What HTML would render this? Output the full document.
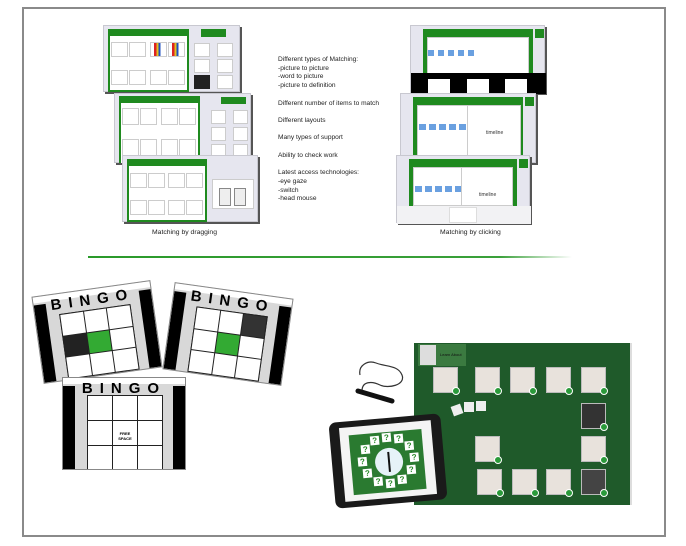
<!DOCTYPE html>
<html><head><meta charset="utf-8">
<style>
*{margin:0;padding:0;box-sizing:border-box}
body{width:686px;height:546px;background:#fff;position:relative;overflow:hidden;font-family:"Liberation Sans",sans-serif}
.a{position:absolute}
.frame{left:22px;top:7px;width:644px;height:530px;border:2px solid #8a8a8a;border-bottom-width:2px}
.ss{background:#e6e6ef;box-shadow:2px 2px 0 #555;border:1px solid #c8c8d0}
.gp{background:#1f8a1f;}
.cell{background:#fff;border:1px solid #ccc}
.txt{font-size:6.6px;color:#222;line-height:8.7px;white-space:pre}
.cap{font-size:6.8px;color:#222}
.bingo{background:#d8d8d8;border:1px solid #888;overflow:hidden}
.bingo .bl{position:absolute;top:8px;bottom:0;width:12px;background:#000}
.bt{position:absolute;left:0;right:0;top:2px;text-align:center;font-weight:bold;font-size:15px;letter-spacing:7px;color:#000}
.grid{position:absolute;display:grid;grid-template-columns:repeat(3,1fr);grid-template-rows:repeat(3,1fr);border:1px solid #222;background:#222;gap:1px}
.grid div{background:#fff}
.card{position:absolute;width:25px;height:26px;background:#e8e2dc;border:1px solid #bbb}
.card:after{content:"";position:absolute;right:-3px;bottom:-3px;width:6px;height:6px;border-radius:50%;background:#2a9a3a;border:1px solid #fff}
.q{position:absolute;width:9px;height:9px;background:#fff;color:#2a8a2a;font-size:8px;font-weight:bold;text-align:center;line-height:9px}
</style></head><body>
<div class="a frame"></div>

<!-- left stack -->
<div class="a ss" style="left:103px;top:25px;width:137px;height:67px">
 <div class="a gp" style="left:4px;top:3px;width:81px;height:63px"></div>
 <div class="a" style="left:6px;top:10px;width:77px;height:54px;background:#fff"></div>
 <div class="a cell" style="left:7px;top:16px;width:17px;height:15px"></div>
 <div class="a cell" style="left:25px;top:16px;width:17px;height:15px"></div>
 <div class="a cell" style="left:46px;top:16px;width:17px;height:15px;background:linear-gradient(90deg,#fff 20%,#d22 20%,#d22 35%,#e0c020 35%,#e0c020 50%,#2050c0 50%,#2050c0 65%,#fff 65%)"></div>
 <div class="a cell" style="left:64px;top:16px;width:17px;height:15px;background:linear-gradient(90deg,#fff 20%,#d22 20%,#d22 35%,#e0c020 35%,#e0c020 50%,#2050c0 50%,#2050c0 65%,#fff 65%)"></div>
 <div class="a cell" style="left:7px;top:44px;width:17px;height:15px"></div>
 <div class="a cell" style="left:25px;top:44px;width:17px;height:15px"></div>
 <div class="a cell" style="left:46px;top:44px;width:17px;height:15px"></div>
 <div class="a cell" style="left:64px;top:44px;width:17px;height:15px"></div>
 <div class="a gp" style="left:97px;top:3px;width:25px;height:8px"></div>
 <div class="a cell" style="left:90px;top:17px;width:16px;height:14px"></div>
 <div class="a cell" style="left:113px;top:17px;width:16px;height:14px"></div>
 <div class="a cell" style="left:90px;top:33px;width:16px;height:14px"></div>
 <div class="a cell" style="left:113px;top:33px;width:16px;height:14px"></div>
 <div class="a" style="left:90px;top:49px;width:16px;height:14px;background:#222"></div>
 <div class="a cell" style="left:113px;top:49px;width:16px;height:14px"></div>
</div>
<div class="a ss" style="left:114px;top:93px;width:137px;height:70px">
 <div class="a gp" style="left:4px;top:2px;width:81px;height:67px"></div>
 <div class="a" style="left:6px;top:9px;width:77px;height:60px;background:#fff"></div>
 <div class="a cell" style="left:7px;top:14px;width:17px;height:17px"></div>
 <div class="a cell" style="left:25px;top:14px;width:17px;height:17px"></div>
 <div class="a cell" style="left:46px;top:14px;width:17px;height:17px"></div>
 <div class="a cell" style="left:64px;top:14px;width:17px;height:17px"></div>
 <div class="a cell" style="left:7px;top:45px;width:17px;height:17px"></div>
 <div class="a cell" style="left:25px;top:45px;width:17px;height:17px"></div>
 <div class="a cell" style="left:46px;top:45px;width:17px;height:17px"></div>
 <div class="a cell" style="left:64px;top:45px;width:17px;height:17px"></div>
 <div class="a gp" style="left:106px;top:3px;width:25px;height:7px"></div>
 <div class="a cell" style="left:96px;top:16px;width:15px;height:14px"></div>
 <div class="a cell" style="left:118px;top:16px;width:15px;height:14px"></div>
 <div class="a cell" style="left:96px;top:33px;width:15px;height:14px"></div>
 <div class="a cell" style="left:118px;top:33px;width:15px;height:14px"></div>
 <div class="a cell" style="left:96px;top:50px;width:15px;height:14px"></div>
 <div class="a cell" style="left:118px;top:50px;width:15px;height:14px"></div>
</div>
<div class="a ss" style="left:122px;top:155px;width:136px;height:67px">
 <div class="a gp" style="left:4px;top:3px;width:80px;height:63px"></div>
 <div class="a" style="left:6px;top:10px;width:76px;height:54px;background:#fff"></div>
 <div class="a cell" style="left:7px;top:17px;width:17px;height:15px"></div>
 <div class="a cell" style="left:25px;top:17px;width:17px;height:15px"></div>
 <div class="a cell" style="left:45px;top:17px;width:17px;height:15px"></div>
 <div class="a cell" style="left:63px;top:17px;width:17px;height:15px"></div>
 <div class="a cell" style="left:7px;top:44px;width:17px;height:15px"></div>
 <div class="a cell" style="left:25px;top:44px;width:17px;height:15px"></div>
 <div class="a cell" style="left:45px;top:44px;width:17px;height:15px"></div>
 <div class="a cell" style="left:63px;top:44px;width:17px;height:15px"></div>
 <div class="a" style="left:89px;top:23px;width:42px;height:30px;background:#fff;border:1px solid #ccc"></div>
 <div class="a" style="left:96px;top:32px;width:12px;height:18px;background:#eee;border:1px solid #888"></div>
 <div class="a" style="left:111px;top:32px;width:12px;height:18px;background:#eee;border:1px solid #888"></div>
</div>
<div class="a cap" style="left:152px;top:229px">Matching by dragging</div>

<!-- text -->
<div class="a txt" style="left:278px;top:56px">Different types of Matching:
-picture to picture
-word to picture
-picture to definition

Different number of items to match

Different layouts

Many types of support

Ability to check work

Latest access technologies:
-eye gaze
-switch
-head mouse</div>

<!-- right stack -->
<div class="a ss" style="left:410px;top:25px;width:135px;height:68px">
 <div class="a gp" style="left:12px;top:3px;width:110px;height:50px"></div>
 <div class="a" style="left:16px;top:11px;width:102px;height:42px;background:#fff;border:1px solid #ccc"></div>
 <div class="a" style="left:17px;top:24px;width:50px;height:6px;background:linear-gradient(90deg,#6aa0e0 60%,#fff 60%);background-size:10px 6px"></div>
 <div class="a gp" style="left:124px;top:3px;width:9px;height:9px"></div>
 <div class="a" style="left:0;top:47px;width:135px;height:21px;background:#000"></div>
 <div class="a" style="left:17px;top:53px;width:22px;height:15px;background:#fff"></div>
 <div class="a" style="left:56px;top:53px;width:22px;height:15px;background:#fff"></div>
 <div class="a" style="left:94px;top:53px;width:22px;height:15px;background:#fff"></div>
</div>
<div class="a ss" style="left:400px;top:93px;width:136px;height:70px">
 <div class="a gp" style="left:12px;top:3px;width:110px;height:66px"></div>
 <div class="a" style="left:16px;top:11px;width:104px;height:58px;background:#fff;border:1px solid #ccc"></div>
 <div class="a" style="left:18px;top:30px;width:48px;height:6px;background:linear-gradient(90deg,#6aa0e0 70%,#fff 70%);background-size:10px 6px"></div>
 <div class="a" style="left:66px;top:11px;width:1px;height:58px;background:#ccc"></div>
 <div class="a" style="left:85px;top:36px;font-size:5px;color:#333">timeline</div>
 <div class="a gp" style="left:124px;top:3px;width:9px;height:9px"></div>
</div>
<div class="a ss" style="left:396px;top:155px;width:134px;height:68px">
 <div class="a gp" style="left:12px;top:3px;width:108px;height:47px"></div>
 <div class="a" style="left:16px;top:11px;width:100px;height:39px;background:#fff;border:1px solid #ccc"></div>
 <div class="a" style="left:18px;top:30px;width:46px;height:6px;background:linear-gradient(90deg,#6aa0e0 70%,#fff 70%);background-size:10px 6px"></div>
 <div class="a" style="left:64px;top:11px;width:1px;height:39px;background:#ccc"></div>
 <div class="a" style="left:82px;top:36px;font-size:5px;color:#333">timeline</div>
 <div class="a gp" style="left:122px;top:3px;width:9px;height:9px"></div>
 <div class="a" style="left:0;top:50px;width:134px;height:18px;background:#f2f2f4"></div>
 <div class="a" style="left:52px;top:51px;width:28px;height:16px;background:#fff;border:1px solid #ddd"></div>
</div>
<div class="a cap" style="left:440px;top:229px">Matching by clicking</div>

<div class="a" style="left:88px;top:256px;width:484px;height:2px;background:linear-gradient(90deg,#2a9a2a,#3aa03a 85%,rgba(60,160,60,0))"></div>

<!-- bingo boards -->
<div class="a bingo" style="left:37px;top:288px;width:120px;height:88px;transform:rotate(-8deg)">
 <div class="a" style="left:0;top:0;right:0;height:6px;background:#fff"></div>
 <div class="bl" style="left:0"></div><div class="bl" style="right:0"></div>
 <div class="bt">BINGO</div>
 <div class="grid" style="left:24px;top:20px;width:72px;height:66px"><div></div><div></div><div></div><div style="background:#222"></div><div style="background:#3a3"></div><div></div><div></div><div></div><div></div></div>
</div>
<div class="a bingo" style="left:168px;top:290px;width:120px;height:88px;transform:rotate(8deg)">
 <div class="a" style="left:0;top:0;right:0;height:6px;background:#fff"></div>
 <div class="bl" style="left:0"></div><div class="bl" style="right:0"></div>
 <div class="bt">BINGO</div>
 <div class="grid" style="left:24px;top:20px;width:72px;height:66px"><div></div><div></div><div style="background:#333"></div><div></div><div style="background:#3a3"></div><div></div><div></div><div></div><div></div></div>
</div>
<div class="a bingo" style="left:62px;top:377px;width:124px;height:93px">
 <div class="a" style="left:0;top:0;right:0;height:6px;background:#fff"></div>
 <div class="bl" style="left:0"></div><div class="bl" style="right:0"></div>
 <div class="bt">BINGO</div>
 <div class="grid" style="left:24px;top:17px;width:76px;height:76px"><div></div><div></div><div></div><div></div><div style="font-size:4px;font-weight:bold;text-align:center;padding-top:10px">FREE SPACE</div><div></div><div></div><div></div><div></div></div>
</div>

<!-- green board -->
<div class="a" style="left:414px;top:343px;width:218px;height:162px;background:#1f5a2a;border-right:2px solid #ddd"></div>
<div class="a" style="left:418px;top:344px;width:48px;height:22px;background:#3b7a40"></div>
<div class="a" style="left:420px;top:345px;width:16px;height:20px;background:#ddd"></div>
<div class="a" style="left:440px;top:352px;font-size:4px;color:#111">Learn About</div>
<div class="card" style="left:433px;top:367px"></div>
<div class="card" style="left:475px;top:367px"></div>
<div class="card" style="left:510px;top:367px"></div>
<div class="card" style="left:546px;top:367px"></div>
<div class="card" style="left:581px;top:367px"></div>
<div class="card" style="left:581px;top:403px;background:#333"></div>
<div class="card" style="left:581px;top:436px"></div>
<div class="card" style="left:475px;top:436px"></div>
<div class="card" style="left:477px;top:469px"></div>
<div class="card" style="left:512px;top:469px"></div>
<div class="card" style="left:546px;top:469px"></div>
<div class="card" style="left:581px;top:469px;background:#444"></div>
<div class="a" style="left:452px;top:405px;width:10px;height:10px;background:#eee;transform:rotate(-20deg)"></div>
<div class="a" style="left:464px;top:402px;width:10px;height:10px;background:#eee"></div>
<div class="a" style="left:476px;top:401px;width:10px;height:10px;background:#eee"></div>

<!-- pen -->
<div class="a" style="left:348px;top:355px;width:58px;height:52px;background:#fff"></div>
<svg class="a" style="left:348px;top:355px" width="60" height="55">
 <path d="M12 20 C10 10 20 5 28 8 C38 12 50 10 54 20 C58 30 40 34 32 30 C24 26 14 26 14 36" fill="none" stroke="#333" stroke-width="1.2"/>
 <path d="M10 36 L44 46" stroke="#111" stroke-width="5" stroke-linecap="round"/>
</svg>

<!-- ipad -->
<div class="a" style="left:332px;top:418px;width:112px;height:86px;background:#1a1a1a;border-radius:7px;transform:rotate(-5deg)">
 <div class="a" style="left:10px;top:6px;width:92px;height:74px;background:#f4f4f4"></div>
 <div class="a" style="left:19px;top:14px;width:73px;height:60px;background:#2a7a30"></div>
 <div class="a" style="left:43px;top:30px;width:28px;height:28px;border-radius:50%;background:#e6f2f8"></div>
 <div class="a" style="left:56px;top:34px;width:2px;height:20px;background:#111"></div>
 <div class="q" style="left:40px;top:17px">?</div><div class="q" style="left:52px;top:15px">?</div><div class="q" style="left:64px;top:17px">?</div>
 <div class="q" style="left:74px;top:25px">?</div><div class="q" style="left:78px;top:37px">?</div><div class="q" style="left:74px;top:49px">?</div>
 <div class="q" style="left:64px;top:58px">?</div><div class="q" style="left:52px;top:61px">?</div><div class="q" style="left:40px;top:58px">?</div>
 <div class="q" style="left:30px;top:49px">?</div><div class="q" style="left:26px;top:37px">?</div><div class="q" style="left:30px;top:25px">?</div>
</div>
</body></html>
